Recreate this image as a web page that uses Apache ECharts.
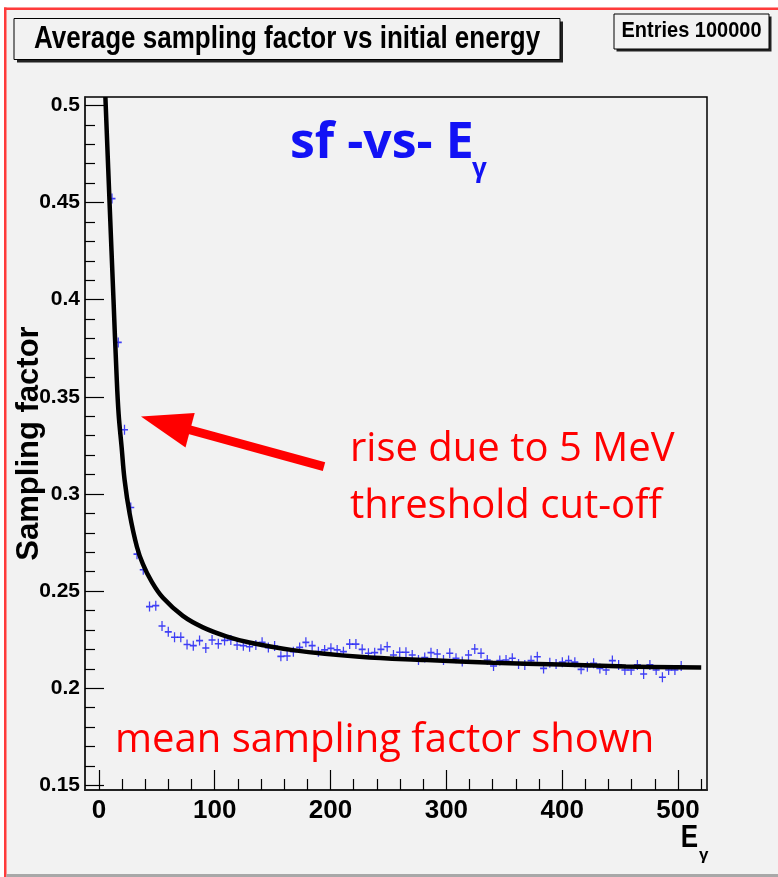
<!DOCTYPE html>
<html>
<head>
<meta charset="utf-8">
<script src="https://cdn.jsdelivr.net/npm/echarts@6/dist/echarts.min.js"></script>
<style>
  html, body { margin: 0; padding: 0; background: #fff; }
  #chart { width: 778px; height: 877px; }
</style>
</head>
<body>
<div id="chart"></div>
<script>
// profile points (bin centre in E_gamma, mean sampling factor)
const energies = [
  11.3, 16.7, 22.1, 27.5, 32.9, 38.3, 43.7, 49.1, 54.5, 59.9,
  65.3, 70.7, 76.1, 81.5, 86.9, 92.3, 97.7, 103.1, 108.5, 113.9,
  119.3, 124.7, 130.1, 135.5, 140.9, 146.3, 151.7, 157.1, 162.5, 167.9,
  173.3, 178.7, 184.1, 189.5, 194.9, 200.3, 205.7, 211.1, 216.5, 221.9,
  227.3, 232.7, 238.1, 243.5, 248.9, 254.3, 259.7, 265.1, 270.5, 275.9,
  281.3, 286.7, 292.1, 297.5, 302.9, 308.3, 313.7, 319.1, 324.5, 329.9,
  335.3, 340.7, 346.1, 351.5, 356.9, 362.3, 367.7, 373.1, 378.5, 383.9,
  389.3, 394.7, 400.1, 405.5, 410.9, 416.3, 421.7, 427.1, 432.5, 437.9,
  443.3, 448.7, 454.1, 459.5, 464.9, 470.3, 475.7, 481.1, 486.5, 491.9,
  497.3, 502.7
];
const sfMeans = [
  0.452, 0.378, 0.333, 0.293, 0.269, 0.261, 0.242, 0.2425, 0.232, 0.229,
  0.2262, 0.2262, 0.2225, 0.2219, 0.2245, 0.2207, 0.2248, 0.2229, 0.2246, 0.2248,
  0.2222, 0.2219, 0.2213, 0.2222, 0.2236, 0.2209, 0.2217, 0.2164, 0.2166, 0.2188,
  0.221, 0.2236, 0.2219, 0.2188, 0.2197, 0.2205, 0.2197, 0.2188, 0.2227, 0.2227,
  0.22, 0.218, 0.2183, 0.22, 0.2213, 0.2171, 0.2185, 0.2185, 0.2171, 0.2145,
  0.2158, 0.2183, 0.2176, 0.2145, 0.218, 0.2154, 0.2137, 0.2171, 0.2202, 0.218,
  0.2145, 0.2114, 0.2142, 0.2145, 0.2154, 0.2124, 0.212, 0.2142, 0.2162, 0.2102,
  0.2131, 0.2125, 0.2134, 0.2142, 0.2134, 0.2097, 0.2111, 0.2128, 0.2102, 0.2094,
  0.2142, 0.212, 0.2094, 0.2094, 0.212, 0.2073, 0.212, 0.2094, 0.2056, 0.2094,
  0.2094, 0.2114
];

// fitted curve
const fitE = [5.6, 9.2, 12.6, 15.2, 17, 19.6, 22.2, 26.5, 32.8, 38, 45.2, 55.3, 72.5, 89.8,
  110, 130, 167.5, 225, 283, 340, 398, 455, 520];
const fitSf = [0.5043, 0.45, 0.40, 0.362, 0.3414, 0.3242, 0.3071, 0.29, 0.2728, 0.2638, 0.2552, 0.2465, 0.2372, 0.2313,
  0.2267, 0.2235, 0.2196, 0.2162, 0.2145, 0.2131, 0.2122, 0.2112, 0.2106];

const xMajorTicks = [0, 100, 200, 300, 400, 500];
const xMinorTicks = [20, 40, 60, 80, 120, 140, 160, 180, 220, 240, 260, 280, 320, 340, 360, 380, 420, 440, 460, 480, 520];
const yMajorTicks = [0.15, 0.2, 0.25, 0.3, 0.35, 0.4, 0.45, 0.5];
const yMinorTicks = [0.16, 0.17, 0.18, 0.19, 0.21, 0.22, 0.23, 0.24, 0.26, 0.27, 0.28, 0.29,
  0.31, 0.32, 0.33, 0.34, 0.36, 0.37, 0.38, 0.39, 0.41, 0.42, 0.43, 0.44, 0.46, 0.47, 0.48, 0.49];

const X_MIN = -12, X_MAX = 525;
const Y_MIN = 0.1476, Y_MAX = 0.5043;

const rootFont = "'Liberation Sans', Arial, sans-serif";
const slideFont = "'Open Sans', 'Noto Sans', sans-serif";
const blue = "#1212f5";
const red = "#ff0000";

const chart = echarts.init(document.getElementById("chart"), null, { renderer: "canvas" });

const tickFmt = (v) => String(+v.toFixed(2));

const option = {
  animation: false,
  backgroundColor: "#f2f2f2",
  grid: {
    left: 85, right: 71, top: 97, bottom: 87,
    outerBoundsMode: "none",
    show: true, borderColor: "#000", borderWidth: 1.5, backgroundColor: "transparent"
  },
  xAxis: [
    {
      type: "value", min: X_MIN, max: X_MAX, position: "bottom",
      splitLine: { show: false },
      axisLine: { show: true, onZero: false, lineStyle: { color: "#222", width: 2 } },
      axisTick: { show: true, inside: true, length: 20, customValues: xMajorTicks, lineStyle: { color: "#000", width: 1.2 } },
      axisLabel: {
        customValues: xMajorTicks, margin: 8, color: "#000",
        fontFamily: rootFont, fontWeight: "bold", fontSize: 26
      }
    },
    {
      type: "value", min: X_MIN, max: X_MAX, position: "bottom",
      splitLine: { show: false },
      axisLine: { show: false, onZero: false },
      axisTick: { show: true, inside: true, length: 11, customValues: xMinorTicks, lineStyle: { color: "#000", width: 1.2 } },
      axisLabel: { show: false }
    }
  ],
  yAxis: [
    {
      type: "value", min: Y_MIN, max: Y_MAX, position: "left",
      splitLine: { show: false },
      axisLine: { show: true, onZero: false, lineStyle: { color: "#222", width: 1.5 } },
      axisTick: { show: true, inside: true, length: 19, customValues: yMajorTicks, lineStyle: { color: "#000", width: 1.2 } },
      axisLabel: {
        customValues: yMajorTicks, margin: 5, color: "#000", formatter: tickFmt,
        fontFamily: rootFont, fontWeight: "bold", fontSize: 21
      },
      name: "Sampling factor", nameLocation: "middle", nameGap: 40, nameMoveOverlap: false,
      nameTextStyle: { color: "#000", fontFamily: rootFont, fontWeight: "bold", fontSize: 31 }
    },
    {
      type: "value", min: Y_MIN, max: Y_MAX, position: "left",
      splitLine: { show: false },
      axisLine: { show: false, onZero: false },
      axisTick: { show: true, inside: true, length: 10, customValues: yMinorTicks, lineStyle: { color: "#000", width: 1.2 } },
      axisLabel: { show: false }
    }
  ],
  series: [
    {
      type: "scatter",
      xAxisIndex: 0, yAxisIndex: 0,
      data: energies.map((e, i) => [e, sfMeans[i]]),
      symbol: "path://M0,4.2H10V5.8H0Z M4.1,0H5.9V10H4.1Z",
      symbolSize: [7, 10],
      itemStyle: { color: blue },
      z: 2
    },
    {
      type: "line",
      xAxisIndex: 0, yAxisIndex: 0,
      data: fitE.map((e, i) => [e, fitSf[i]]),
      showSymbol: false,
      smooth: 0.4,
      lineStyle: { color: "#000", width: 4.5 },
      clip: true,
      z: 3
    }
  ],
  graphic: [
    // pad frame
    { type: "rect", shape: { x: 0, y: 0, width: 778, height: 7.5 }, style: { fill: "#fff" }, silent: true },
    { type: "rect", shape: { x: 0, y: 0, width: 4, height: 877 }, style: { fill: "#fff" }, silent: true },
    { type: "rect", shape: { x: 4, y: 7.5, width: 774, height: 2.5 }, style: { fill: "#ff3b3b" }, silent: true },
    { type: "rect", shape: { x: 4, y: 7.5, width: 2.5, height: 870 }, style: { fill: "#ff3b3b" }, silent: true },
    { type: "rect", shape: { x: 6.5, y: 874, width: 772, height: 3 }, style: { fill: "#a8a8a8" }, silent: true },

    // title box
    { type: "rect", shape: { x: 17, y: 21.5, width: 546, height: 41 }, style: { fill: "#222" }, silent: true },
    { type: "rect", shape: { x: 14, y: 18.5, width: 546, height: 41 }, style: { fill: "#f2f2f2", stroke: "#000", lineWidth: 1 }, silent: true },
    {
      type: "text", x: 287, y: 40, scaleY: 1.18,
      style: { text: "Average sampling factor vs initial energy", fill: "#000", font: `bold 26px ${rootFont}`, align: "center", verticalAlign: "middle" }
    },

    // stats box
    { type: "rect", shape: { x: 616.5, y: 16.5, width: 155, height: 35 }, style: { fill: "#222" }, silent: true },
    { type: "rect", shape: { x: 614, y: 14, width: 155, height: 35 }, style: { fill: "#f2f2f2", stroke: "#000", lineWidth: 1 }, silent: true },
    {
      type: "text", x: 691.5, y: 31, scaleY: 1.12,
      style: { text: "Entries 100000", fill: "#000", font: `bold 20px ${rootFont}`, align: "center", verticalAlign: "middle" }
    },

    // x axis title
    {
      type: "text", x: 698, y: 839, scaleY: 1.18,
      style: { text: "E", fill: "#000", font: `bold 26px ${rootFont}`, align: "right", verticalAlign: "middle" }
    },
    {
      type: "text", x: 699, y: 855,
      style: { text: "γ", fill: "#000", font: `bold 17px ${rootFont}`, align: "left", verticalAlign: "middle" }
    },

    // slide annotations
    {
      type: "text", x: 290, y: 144,
      style: { text: "sf -vs- E", fill: blue, font: `bold 50px ${slideFont}`, align: "left", verticalAlign: "middle" }
    },
    {
      type: "text", x: 472, y: 170,
      style: { text: "γ", fill: blue, font: `bold 26px ${slideFont}`, align: "left", verticalAlign: "middle" }
    },
    {
      type: "line", shape: { x1: 324, y1: 466.6, x2: 185, y2: 428.5 },
      style: { stroke: red, lineWidth: 9, lineCap: "butt" }, silent: true
    },
    {
      type: "polygon", shape: { points: [[141, 416.6], [194.7, 413], [185.5, 447.4]] },
      style: { fill: red }, silent: true
    },
    {
      type: "text", x: 350, y: 421.5,
      style: { text: "rise due to 5 MeV\nthreshold cut-off", fill: red, font: `40px ${slideFont}`, lineHeight: 57, align: "left", verticalAlign: "top" }
    },
    {
      type: "text", x: 115, y: 740.6,
      style: { text: "mean sampling factor shown", fill: red, font: `40px ${slideFont}`, align: "left", verticalAlign: "middle" }
    }
  ]
};

chart.setOption(option);
</script>
</body>
</html>
